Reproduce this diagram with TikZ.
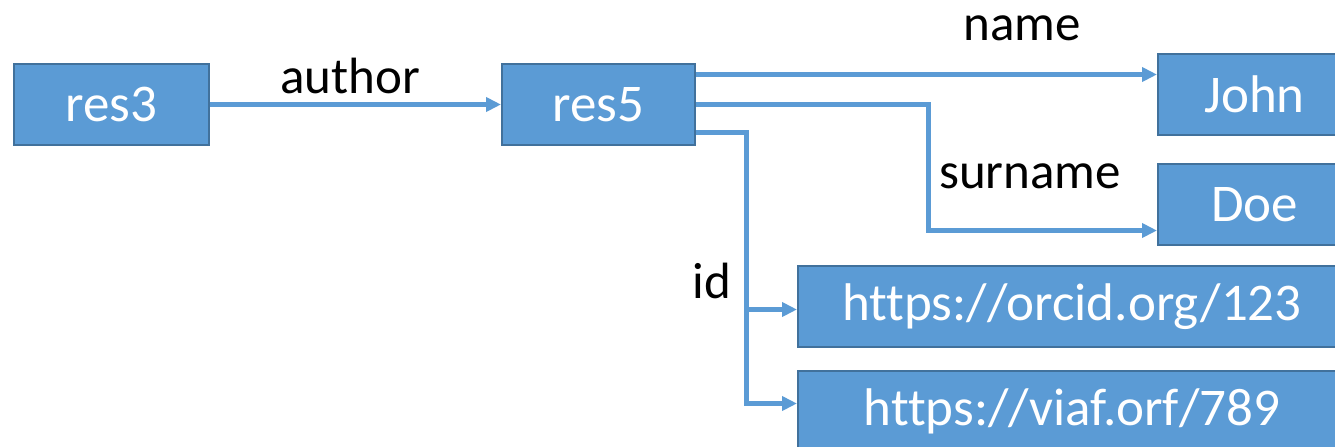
\documentclass[tikz,border=0pt]{standalone}
\usepackage{fontspec}
\setmainfont{Carlito}
\newfontfamily\boxfont[Ligatures=NoCommon]{Carlito}
\usetikzlibrary{arrows.meta,calc}
\definecolor{boxfill}{HTML}{5B9BD5}
\definecolor{boxline}{HTML}{41719C}
\tikzset{
  resbox/.style={draw=boxline, line width=1pt, fill=boxfill, text=white,
    font=\boxfont\fontsize{26.5}{30}\selectfont, inner sep=0pt, anchor=north west},
  link/.style={draw=boxfill, line width=2.5pt, -{Triangle[length=7.5pt,width=7pt]}},
  lbl/.style={font=\fontsize{25.5}{30}\selectfont, text=black, inner sep=0pt}
}
\begin{document}
\begin{tikzpicture}[x=0.5pt,y=-0.5pt]
\useasboundingbox (0,0) rectangle (1335,446);
\clip (0,0) rectangle (1335,446);
\node[resbox, minimum width=97.5pt, minimum height=40.5pt] (res3) at (13,63) {res3};
\node[resbox, minimum width=96.5pt, minimum height=40.5pt] (res5) at (501,63) {res5};
\node[resbox, minimum width=96.5pt, minimum height=40.5pt] (john) at (1157,53) {John};
\node[resbox, minimum width=96.5pt, minimum height=40.5pt] (doe) at (1157,163) {Doe};
\node[resbox, minimum width=274pt, minimum height=40.5pt] (orcid) at (797,265) {https://orcid.org/123};
\node[resbox, minimum width=274pt, minimum height=40.5pt] (viaf) at (797,370) {https://viaf.orf/789};
% connectors
\draw[link] (res3.east) -- (res5.west);
\coordinate (n0) at ($(res5.east)+(0,-30)$);
\draw[link] (n0) -- (n0 -| john.west);
\coordinate (s0) at ($(res5.east)+(0,0)$);
\coordinate (s1) at (928,104);
\coordinate (s2) at ($(doe.west)+(0,26)$);
\draw[link] (s0) -- (s0 -| s1) |- (s2);
\coordinate (i0) at ($(res5.east)+(0,28)$);
\coordinate (i1) at (746,132);
\coordinate (i2) at ($(orcid.west)+(0,3)$);
\coordinate (i3) at ($(viaf.west)+(0,-8)$);
\draw[link] (i0) -- (i0 -| i1) |- (i3);
\draw[link] (i2 -| i1) -- (i2);
% labels
\node[lbl] (lauthor) at (350,76) {author};
\node[lbl] (lname) at (1022,28) {name};
\node[lbl] (lsurname) at (1030,176) {surname};
\node[lbl] (lid) at (712,281) {id};
\end{tikzpicture}
\end{document}
